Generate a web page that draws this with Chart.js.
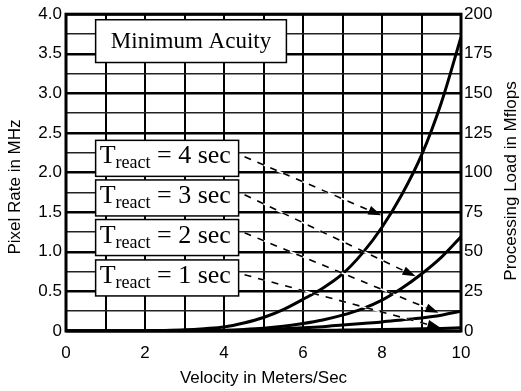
<!DOCTYPE html>
<html>
<head>
<meta charset="utf-8">
<script src="https://cdn.jsdelivr.net/npm/chart.js@4/dist/chart.umd.min.js"></script>
<style>
  html, body { margin: 0; padding: 0; background: #fff; }
  #wrap { width: 521px; height: 391px; position: relative; }
</style>
</head>
<body>
<div id="wrap"><canvas id="c" width="521" height="391"></canvas></div>
<script>
// ---- data ----
const velocity = [0,0.5,1,1.5,2,2.5,3,3.5,4,4.5,5,5.5,6,6.5,7,7.5,8,8.5,9,9.5,10];
const treact4 = [0,0,0.0005,0.001,0.003,0.007,0.015,0.03,0.05,0.1,0.17,0.27,0.40,0.54,0.72,0.98,1.31,1.72,2.22,2.88,3.71];
const treact3 = [0,0,0,0,0,0.001,0.002,0.004,0.01,0.02,0.035,0.06,0.095,0.14,0.2,0.28,0.39,0.54,0.72,0.93,1.19];
const treact2 = [0,0,0,0,0,0,0,0.002,0.005,0.01,0.018,0.028,0.04,0.055,0.075,0.095,0.115,0.14,0.165,0.2,0.25];
const treact1 = [0,0,0,0,0,0,0,0,0,0.001,0.003,0.005,0.007,0.009,0.012,0.015,0.018,0.022,0.027,0.033,0.04];
const xTicks = [0,2,4,6,8,10];
const labelTimes = [4,3,2,1];

const seriesList = [treact4, treact3, treact2, treact1];
const datasets = seriesList.map((s, k) => ({
  label: 'Treact = ' + labelTimes[k] + ' sec',
  data: velocity.map((v, i) => ({x: v, y: s[i]})),
  borderColor: '#000',
  borderWidth: 3,
  pointRadius: 0,
  cubicInterpolationMode: 'monotone',
  fill: false
}));

// annotation layout (data coordinates)
const noteLayout = {
  title: {x0: 0.75, x1: 5.58, y0: 3.39, y1: 3.93, text: 'Minimum Acuity'},
  box: {x0: 0.75, x1: 4.37, yc: [2.18, 1.68, 1.18, 0.67]},
  arrowFrom: [[4.52, 2.2], [4.52, 1.72], [4.52, 1.24], [4.52, 0.71]],
  arrowTo: [[7.98, 1.46], [8.85, 0.69], [9.43, 0.23], [9.48, 0.04]]
};

const notes = {
  id: 'notes',
  afterDatasetsDraw(chart) {
    const {ctx, chartArea: a} = chart;
    const xs = chart.scales.x, ys = chart.scales.y;
    const px = v => xs.getPixelForValue(v), py = v => ys.getPixelForValue(v);
    ctx.save();
    // frame
    ctx.strokeStyle = '#000';
    ctx.lineWidth = 3;
    ctx.strokeRect(a.left, a.top, a.right - a.left, a.bottom - a.top);
    // dashed arrows
    noteLayout.arrowFrom.forEach((f, i) => {
      const t = noteLayout.arrowTo[i];
      const x0 = px(f[0]), y0 = py(f[1]), x1 = px(t[0]), y1 = py(t[1]);
      const ang = Math.atan2(y1 - y0, x1 - x0);
      const L = 13, W = 4.5;
      const bx = x1 - L * Math.cos(ang), by = y1 - L * Math.sin(ang);
      ctx.setLineDash([]);
      ctx.strokeStyle = '#fff';
      ctx.lineWidth = 1.6;
      ctx.beginPath(); ctx.moveTo(x0, y0); ctx.lineTo(bx, by); ctx.stroke();
      ctx.setLineDash([7, 7]);
      ctx.strokeStyle = '#000';
      ctx.beginPath(); ctx.moveTo(x0, y0); ctx.lineTo(bx, by); ctx.stroke();
      ctx.setLineDash([]);
      ctx.fillStyle = '#000';
      ctx.beginPath();
      ctx.moveTo(x1, y1);
      ctx.lineTo(bx + W * Math.sin(ang), by - W * Math.cos(ang));
      ctx.lineTo(bx - W * Math.sin(ang), by + W * Math.cos(ang));
      ctx.closePath(); ctx.fill();
    });
    // title box
    const tb = noteLayout.title;
    const tx0 = px(tb.x0), tx1 = px(tb.x1), ty0 = py(tb.y1), ty1 = py(tb.y0);
    ctx.fillStyle = '#fff';
    ctx.fillRect(tx0, ty0, tx1 - tx0, ty1 - ty0);
    ctx.strokeStyle = '#000'; ctx.lineWidth = 1.5;
    ctx.strokeRect(tx0, ty0, tx1 - tx0, ty1 - ty0);
    ctx.fillStyle = '#000';
    ctx.font = '23px "Liberation Serif", "Times New Roman", serif';
    ctx.textAlign = 'center'; ctx.textBaseline = 'alphabetic';
    ctx.fillText(tb.text, (tx0 + tx1) / 2, (ty0 + ty1) / 2 + 7);
    // Treact boxes
    const b = noteLayout.box;
    const bx0 = px(b.x0), bx1 = px(b.x1), h = 36;
    b.yc.forEach((yc, i) => {
      const cy = py(yc);
      const top = cy - h / 2;
      ctx.fillStyle = '#fff';
      ctx.fillRect(bx0, top, bx1 - bx0, h);
      ctx.strokeStyle = '#000'; ctx.lineWidth = 1.5;
      ctx.strokeRect(bx0, top, bx1 - bx0, h);
      ctx.fillStyle = '#000';
      ctx.textAlign = 'left'; ctx.textBaseline = 'alphabetic';
      const base = cy + 5;
      let x = bx0 + 4;
      ctx.font = '26px "Liberation Serif", "Times New Roman", serif';
      ctx.fillText('T', x, base); x += ctx.measureText('T').width;
      ctx.font = '18px "Liberation Serif", "Times New Roman", serif';
      ctx.fillText('react', x, base + 5); x += ctx.measureText('react').width;
      ctx.font = '26px "Liberation Serif", "Times New Roman", serif';
      ctx.fillText(' = ' + labelTimes[i] + ' sec', x, base);
    });
    // vertical axis titles
    ctx.font = '17px "Liberation Sans", Arial, sans-serif';
    ctx.textAlign = 'center'; ctx.textBaseline = 'middle';
    ctx.translate(15, 187);
    ctx.rotate(-Math.PI / 2);
    ctx.fillText('Pixel Rate in MHz', 0, 0);
    ctx.setTransform(1, 0, 0, 1, 0, 0);
    ctx.translate(511, 181);
    ctx.rotate(-Math.PI / 2);
    ctx.fillText('Processing Load in Mflops', 0, 0);
    ctx.restore();
  }
};

const tickFont = {family: '"Liberation Sans", Arial, sans-serif', size: 17};

new Chart(document.getElementById('c'), {
  type: 'line',
  data: {datasets},
  plugins: [notes],
  options: {
    responsive: false,
    animation: false,
    events: [],
    layout: {padding: {top: 10, left: 0, right: 0, bottom: 0}},
    plugins: {legend: {display: false}, tooltip: {enabled: false}, title: {display: false}},
    scales: {
      x: {
        type: 'linear', min: 0, max: 10,
        border: {display: false},
        grid: {color: '#000', lineWidth: 2, drawTicks: false},
        afterBuildTicks: s => { s.ticks = velocity.filter(v => Number.isInteger(v)).map(v => ({value: v})); },
        afterFit: s => { s.height = 60; },
        ticks: {
          autoSkip: false, maxRotation: 0, padding: 12, color: '#000', font: tickFont,
          callback: v => xTicks.includes(v) ? String(v) : ''
        },
        title: {display: true, text: 'Velocity in Meters/Sec', color: '#000',
          font: {family: '"Liberation Sans", Arial, sans-serif', size: 17}, padding: {top: 0, bottom: 2}}
      },
      y: {
        type: 'linear', position: 'left', min: 0, max: 4,
        border: {display: false},
        grid: {
          color: ctx => (Math.round(ctx.tick.value * 4) % 2 === 0) ? '#000' : '#222',
          lineWidth: ctx => (Math.round(ctx.tick.value * 4) % 2 === 0) ? 2.5 : 1.6,
          drawTicks: false
        },
        afterFit: s => { s.width = 66; },
        ticks: {
          stepSize: 0.25, autoSkip: false, padding: 4, color: '#000', font: tickFont,
          callback: v => (Math.round(v * 4) % 2 === 0) ? (v === 0 ? '0' : v.toFixed(1)) : ''
        }
      },
      y2: {
        type: 'linear', position: 'right', min: 0, max: 200,
        border: {display: false},
        grid: {display: false, drawTicks: false},
        afterFit: s => { s.width = 60; },
        ticks: {stepSize: 25, autoSkip: false, padding: 3, color: '#000', font: tickFont}
      }
    }
  }
});
</script>
</body>
</html>
